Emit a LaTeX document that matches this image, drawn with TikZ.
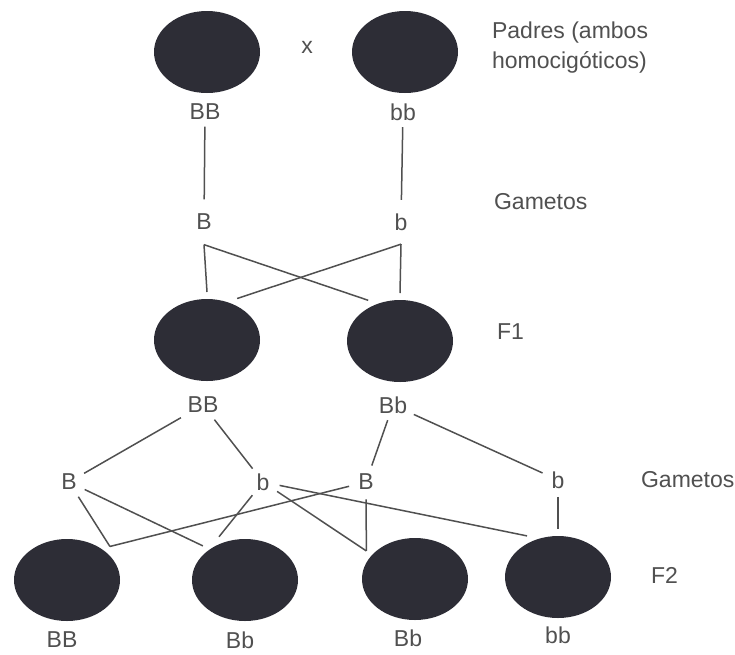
\documentclass[tikz,border=0pt]{standalone}
\usepackage{fontspec}
\setmainfont{Liberation Sans}
\usetikzlibrary{shapes.geometric}
\definecolor{cellfill}{RGB}{45,45,54}
\definecolor{ink}{RGB}{80,80,80}

\begin{document}
\begin{tikzpicture}[x=1pt, y=-1pt, color=ink, line width=1.5pt,
    every node/.style={font=\fontsize{23}{30}\selectfont},
    cell/.style={ellipse, fill=cellfill, minimum width=106pt, minimum height=82pt,
      inner sep=0pt, outer sep=7pt},
    geno/.style={inner sep=6pt},
    gamete/.style={circle, inner sep=4pt}]
    \useasboundingbox (0,0) rectangle (735,654);
    \node[cell] (pa) at (207,52) {};
    \node[cell] (pb) at (405,52) {};
    \node (cross) at (307,47) {x};
    \node[anchor=west, align=left] (padres) at (488,48) {Padres (ambos\\homocigóticos)};
    \node[geno] (pBB) at (205,112) {BB};
    \node[geno] (pbb) at (403,112) {bb};
    \node[gamete, outer sep=6pt] (gB) at (204,222) {B};
    \node[gamete, outer sep=6pt] (gb) at (401,222) {b};
    \node[anchor=west] (gam1) at (490,202) {Gametos};
    \node[cell] (f1a) at (207,340) {};
    \node[cell] (f1b) at (400,341) {};
    \node[anchor=west] (lf1) at (493,332) {F1};
    \node[geno] (f1BB) at (203,405) {BB};
    \node[geno] (f1Bb) at (393,405) {Bb};
    \node[gamete] (gB1) at (69,482) {B};
    \node[gamete] (gb1) at (263,482) {b};
    \node[gamete] (gB2) at (366,482) {B};
    \node[gamete] (gb2) at (558,480) {b};
    \node[anchor=west] (gam2) at (637,480) {Gametos};
    \node[cell] (f2a) at (67,580) {};
    \node[cell] (f2b) at (245,580) {};
    \node[cell] (f2c) at (415,579) {};
    \node[cell] (f2d) at (558,577) {};
    \node[anchor=west] (lf2) at (647,575) {F2};
    \node (f2BB) at (62,640) {BB};
    \node (f2Bb) at (240,640) {Bb};
    \node (f2Bbb) at (408,638) {Bb};
    \node (f2bb) at (558,635) {bb};
    \draw (pBB) -- (gB);
    \draw (pbb) -- (gb);
    \draw (gB.south) -- (f1a.north);
    \draw (gB.south) -- (f1b.128);
    \draw (gb.south) -- (f1b.north);
    \draw (gb.south) -- (f1a.54);
    \draw (f1BB) -- (gB1);
    \draw (f1BB) -- (gb1);
    \draw (f1Bb) -- (gB2);
    \draw (f1Bb) -- (gb2);
    \draw (gB1) -- (f2a.38);
    \draw (gB1) -- (f2b.141);
    \draw (gb1) -- (f2b.121);
    \draw (gb1) -- (f2c.150);
    \draw (gb1) -- (f2d.127);
    \draw (gB2) -- (f2a.38);
    \draw (gB2) -- (f2c.150);
    \draw (gb2) -- (f2d.north);
  \end{tikzpicture}
\end{document}
